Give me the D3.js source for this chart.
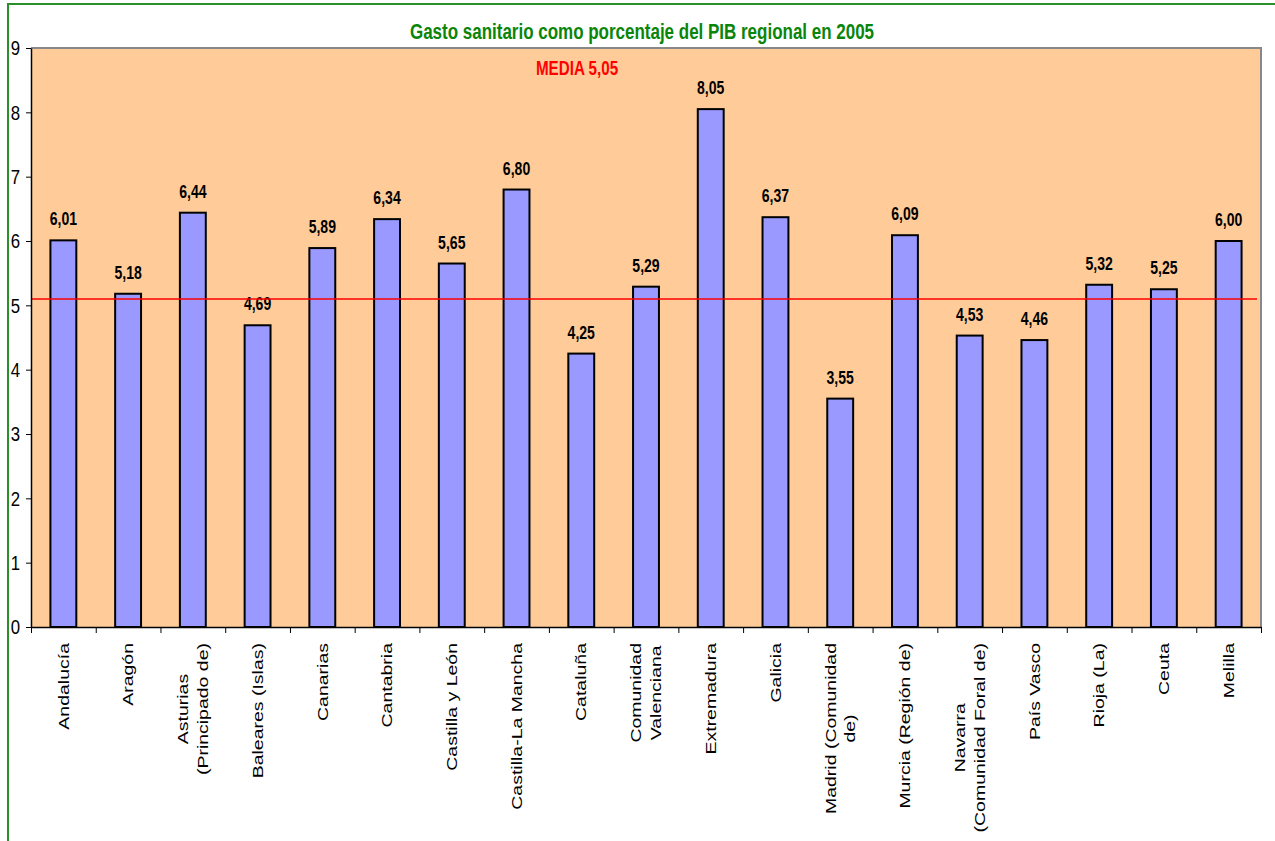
<!DOCTYPE html>
<html>
<head>
<meta charset="utf-8">
<script src="https://cdn.jsdelivr.net/npm/d3@7"></script>
<style>
	body { margin: 0; background: #ffffff; }
	svg { display: block; font-family: "Liberation Sans", Arial, sans-serif; }
</style>
</head>
<body>
<svg id="chart"></svg>
<script>
// data
var regions = ["Andalucía", "Aragón", "Asturias (Principado de)", "Baleares (Islas)", "Canarias", "Cantabria",
	"Castilla y León", "Castilla-La Mancha", "Cataluña", "Comunidad Valenciana", "Extremadura", "Galicia",
	"Madrid (Comunidad de)", "Murcia (Región de)", "Navarra (Comunidad Foral de)", "País Vasco", "Rioja (La)", "Ceuta", "Melilla"];
var gasto = [6.01, 5.18, 6.44, 4.69, 5.89, 6.34, 5.65, 6.80, 4.25, 5.29, 8.05, 6.37, 3.55, 6.09, 4.53, 4.46, 5.32, 5.25, 6.00];
var tickLines = [["Andalucía"], ["Aragón"], ["Asturias", "(Principado de)"], ["Baleares (Islas)"], ["Canarias"], ["Cantabria"],
	["Castilla y León"], ["Castilla-La Mancha"], ["Cataluña"], ["Comunidad", "Valenciana"], ["Extremadura"], ["Galicia"],
	["Madrid (Comunidad", "de)"], ["Murcia (Región de)"], ["Navarra", "(Comunidad Foral de)"], ["País Vasco"], ["Rioja (La)"], ["Ceuta"], ["Melilla"]];
var yTicks = [0, 1, 2, 3, 4, 5, 6, 7, 8, 9];
var mediaLine = [5.1];
var mediaLabel = "MEDIA 5,05";
var title = "Gasto sanitario como porcentaje del PIB regional en 2005";

const width = 1275;
const height = 841;
const margin = {top: 48, bottom: 214, left: 31, right: 14};
const sx = 0.76; // glyphs are squeezed horizontally in the original

var svg = d3.select("#chart").attr("width", width).attr("height", height);

var x = d3.scaleBand()
	.domain(regions)
	.range([margin.left, width - margin.right])
	.padding(0);
var xEdge = d3.scaleLinear()
	.domain([0, regions.length])
	.range([margin.left, width - margin.right]);
var y = d3.scaleLinear()
	.domain([0, 9])
	.range([height - margin.bottom, margin.top]);

// green frame
svg.append("path")
	.attr("d", "M8," + height + "V4H" + width)
	.attr("fill", "none")
	.attr("stroke", "#2a8f2a")
	.attr("stroke-width", 2);

// plot area
svg.append("rect")
	.attr("x", x.range()[0])
	.attr("y", y(9))
	.attr("width", x.range()[1] - x.range()[0])
	.attr("height", y(0) - y(9))
	.attr("fill", "#ffcc99");
svg.append("path")
	.attr("d", "M" + x.range()[0] + "," + y(9) + "H" + x.range()[1] + "V" + y(0))
	.attr("fill", "none")
	.attr("stroke", "#888888")
	.attr("stroke-width", 2);

// title
svg.append("text")
	.attr("transform", "translate(642," + 39 + ") scale(0.79,1)")
	.attr("text-anchor", "middle")
	.attr("font-size", 21.5)
	.attr("font-weight", "bold")
	.attr("fill", "#0a850a")
	.text(title);

// bars
var bw = x.bandwidth() * 0.4;
svg.selectAll(".bar")
	.data(gasto)
	.enter()
	.append("rect")
		.attr("class", "bar")
		.attr("x", (d, i) => x(regions[i]) + x.bandwidth() / 2 - bw / 2)
		.attr("y", d => y(d))
		.attr("width", bw)
		.attr("height", d => y(0) - y(d))
		.attr("fill", "#9999ff")
		.attr("stroke", "#000000")
		.attr("stroke-width", 2);

// value labels
svg.selectAll(".valueLabel")
	.data(gasto)
	.enter()
	.append("text")
		.attr("class", "valueLabel")
		.attr("transform", (d, i) => "translate(" + (x(regions[i]) + x.bandwidth() / 2) + "," + (y(d) - 15) + ") scale(" + sx + ",1)")
		.attr("text-anchor", "middle")
		.attr("font-size", 18.5)
		.attr("font-weight", "bold")
		.attr("fill", "#000000")
		.text(d => d.toFixed(2).replace(".", ","));

// media line
svg.selectAll(".media")
	.data(mediaLine)
	.enter()
	.append("line")
		.attr("class", "media")
		.attr("x1", x.range()[0] + 1)
		.attr("x2", x.range()[1] - 4)
		.attr("y1", d => y(d))
		.attr("y2", d => y(d))
		.attr("stroke", "#ff0000")
		.attr("stroke-width", 1.5);
svg.append("text")
	.attr("transform", "translate(577,75) scale(" + sx + ",1)")
	.attr("text-anchor", "middle")
	.attr("font-size", 20)
	.attr("font-weight", "bold")
	.attr("fill", "#ff0000")
	.text(mediaLabel);

// y axis
var yAxis = svg.append("g")
	.attr("transform", "translate(" + margin.left + ",0)")
	.call(d3.axisLeft(y).tickValues(yTicks).tickSize(5).tickSizeOuter(0));
yAxis.select(".domain").attr("stroke", "#000").attr("stroke-width", 1.5);
yAxis.selectAll(".tick line").attr("stroke", "#000");
yAxis.selectAll(".tick text")
	.attr("x", null)
	.attr("transform", "translate(-11,0) scale(0.8,1)")
	.attr("font-size", 21)
	.attr("font-family", "Liberation Sans, Arial, sans-serif")
	.attr("fill", "#000");

// x axis (ticks between categories)
var xAxis = svg.append("g")
	.attr("transform", "translate(0," + y(0) + ")")
	.call(d3.axisBottom(xEdge).tickValues(d3.range(regions.length + 1)).tickFormat("").tickSize(6).tickSizeOuter(0));
xAxis.select(".domain").attr("stroke", "#000").attr("stroke-width", 1.5);
xAxis.selectAll(".tick line").attr("stroke", "#000");

// category labels, rotated
var lineH = 26;
var labels = svg.selectAll(".catLabel")
	.data(regions)
	.enter()
	.append("g")
		.attr("class", "catLabel")
		.attr("transform", d => "translate(" + (x(d) + x.bandwidth() / 2) + "," + 643 + ") scale(" + sx + ",1) rotate(-90)");

labels.each(function(d, i) {
	var g = d3.select(this);
	var lines = tickLines[i];
	var texts = lines.map(function(line, j) {
		return g.append("text")
			.attr("font-size", 19.5)
			.attr("fill", "#000")
			.attr("y", (j - (lines.length - 1) / 2) * lineH)
			.attr("dy", "0.35em")
			.attr("text-anchor", "middle")
			.text(line);
	});
	var maxLen = d3.max(texts, t => t.node().getComputedTextLength());
	texts.forEach(t => t.attr("x", -maxLen / 2));
});
</script>
</body>
</html>
